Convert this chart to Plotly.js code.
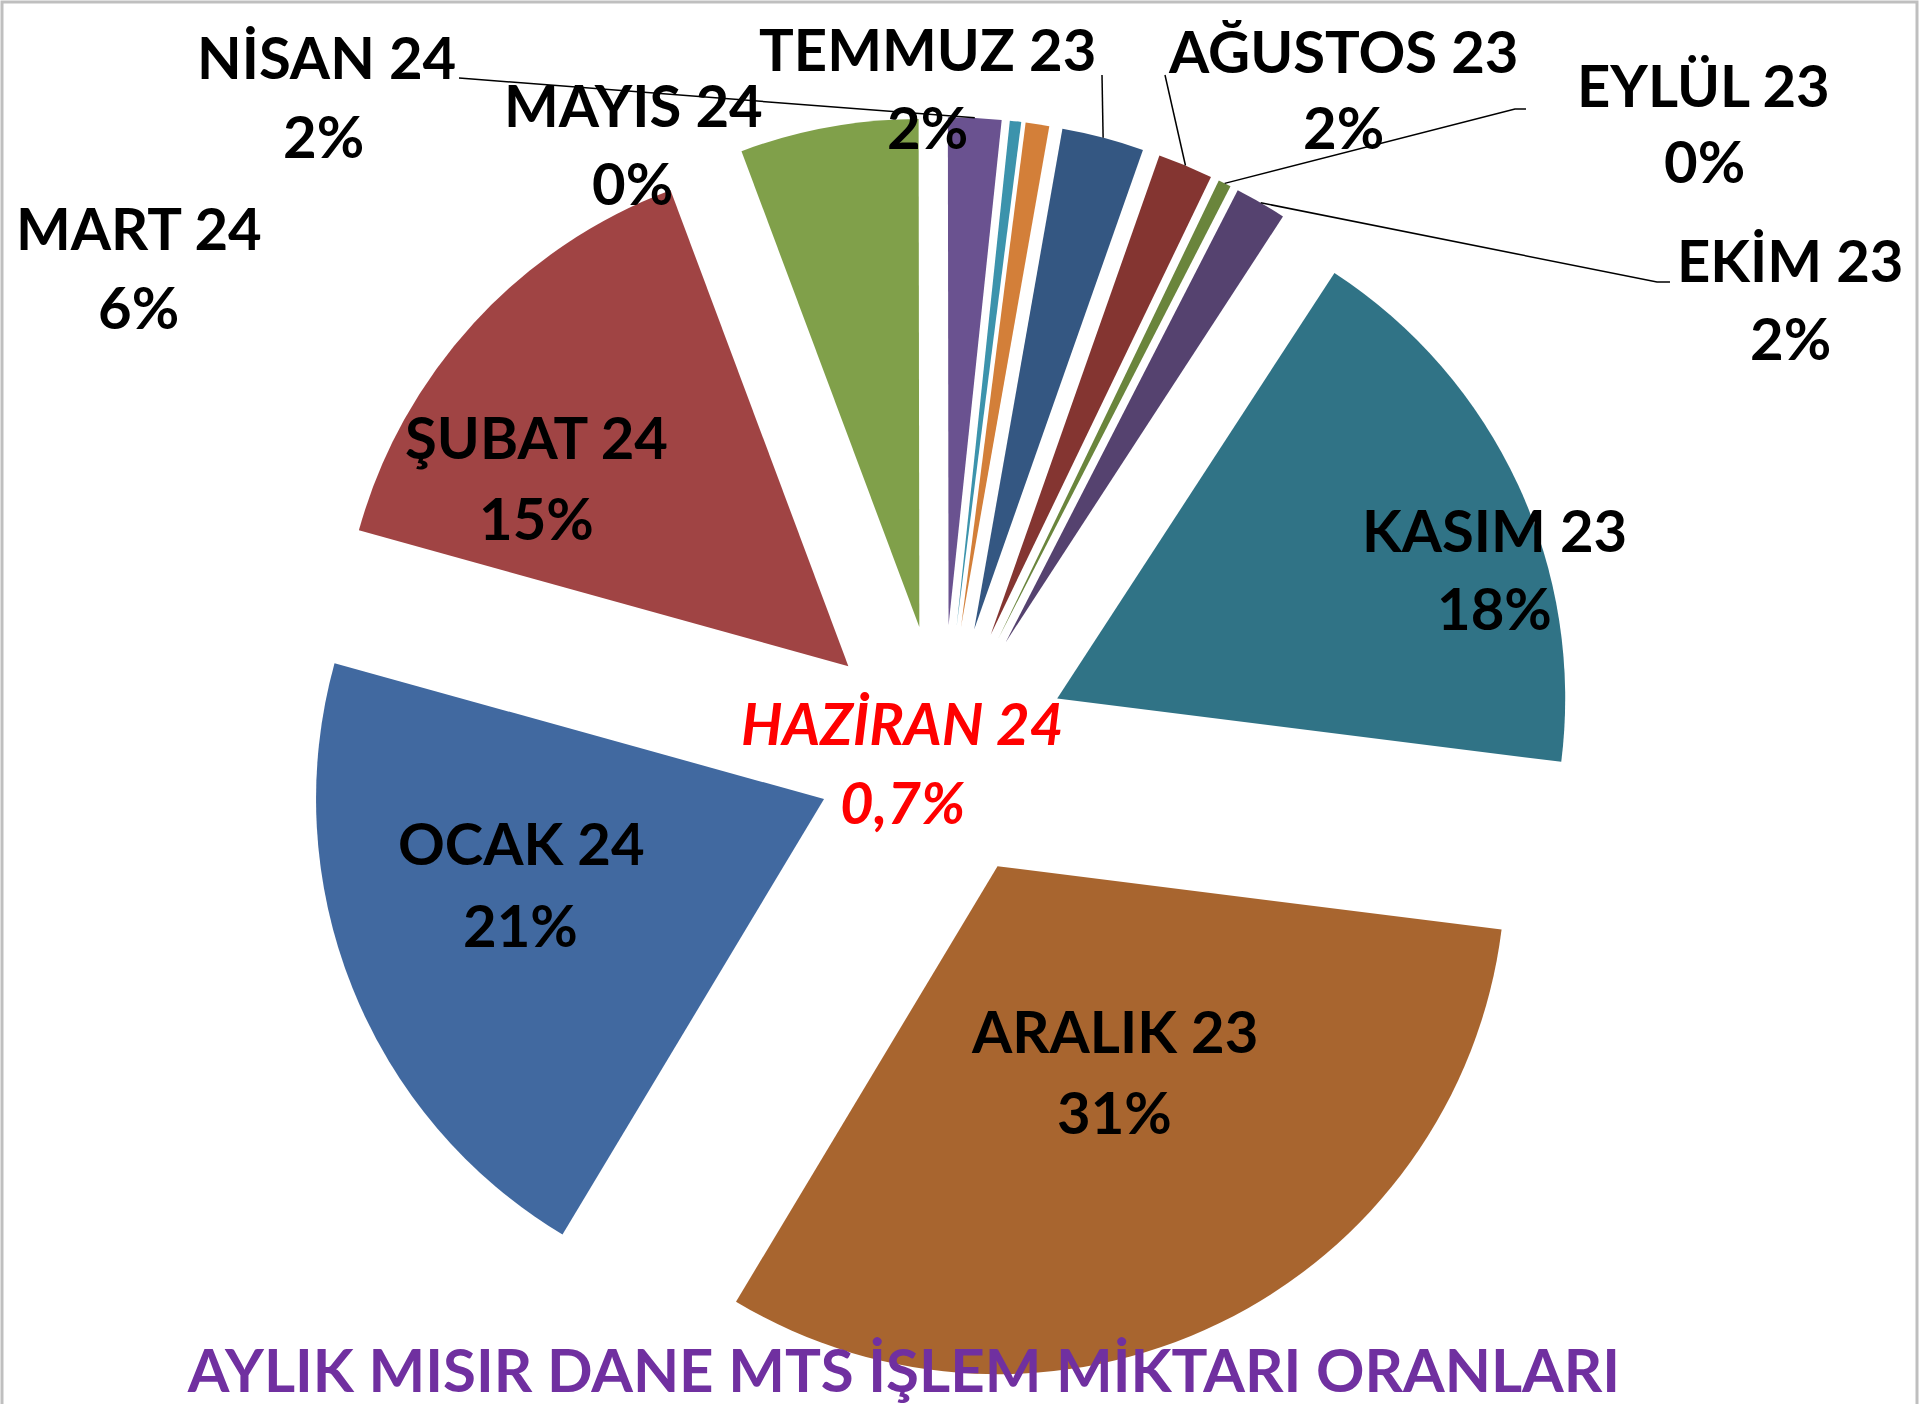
<!DOCTYPE html>
<html><head><meta charset="utf-8">
<script src="https://cdn.plot.ly/plotly-3.0.1.min.js"></script>
<style>html,body{margin:0;padding:0;background:#fff;} #chart{width:1920px;height:1404px;}</style>
</head><body><div id="chart"></div>
<script>
// ---- data (clockwise, chronological) ----
const months = ['TEMMUZ 23','AĞUSTOS 23','EYLÜL 23','EKİM 23','KASIM 23','ARALIK 23','OCAK 24','ŞUBAT 24','MART 24','NİSAN 24','MAYIS 24','HAZİRAN 24'];
const shares = [2.61, 1.75, 0.41, 1.64, 17.8, 31.62, 20.7, 15.0, 5.67, 1.69, 0.36, 0.75];
const pctLabels = ['2%','2%','0%','2%','18%','31%','21%','15%','6%','2%','0%','0,7%'];
const titleText = 'AYLIK MISIR DANE MTS İŞLEM MİKTARI ORANLARI';

// ---- styles / layout ----
const colors = ['#345782','#843531','#6A853C','#55426F','#307386','#A8652F','#4169A0','#A04444','#80A04A','#6A5290','#3C93AC','#D37F39'];
const W = 1920, H = 1404;
const C = [942, 752], R = 508, PULL = 0.25, ROT = 10;
const half = R * (1 + PULL);
const domain = {x: [(C[0] - half) / W, (C[0] + half) / W], y: [1 - (C[1] + half) / H, 1 - (C[1] - half) / H]};

// label centres in px: [nameX, nameY, pctX, pctY]
const labelPos = {
  'TEMMUZ 23': [927, 49, 927, 127],
  'AĞUSTOS 23': [1343, 50, 1343, 127],
  'EYLÜL 23': [1703, 84, 1704, 161],
  'EKİM 23': [1790, 260, 1790, 337],
  'KASIM 23': [1494, 530, 1494, 607],
  'ARALIK 23': [1114, 1030, 1114, 1111],
  'OCAK 24': [521, 842, 520, 924],
  'ŞUBAT 24': [536, 437, 536, 517],
  'MART 24': [139, 227, 138, 306],
  'NİSAN 24': [326, 57, 323, 136],
  'MAYIS 24': [633, 105, 632, 183],
  'HAZİRAN 24': [902, 722, 902, 801]
};
// leader line starts (px) near the label
const leaderStart = {
  'NİSAN 24': [[459, 78], [472, 79]],
  'TEMMUZ 23': [[1102, 75]],
  'AĞUSTOS 23': [[1165, 75]],
  'EYLÜL 23': [[1526, 109], [1515, 109]],
  'EKİM 23': [[1670, 282], [1657, 282]]
};

const px = x => x / W, py = y => 1 - y / H;
const total = shares.reduce((a, b) => a + b, 0);
let cum = 0;
const annotations = [], shapes = [];
months.forEach((m, i) => {
  const mid = (ROT + 360 * (cum + shares[i] / 2) / total) * Math.PI / 180;
  cum += shares[i];
  const p = labelPos[m];
  const isRed = m === 'HAZİRAN 24';
  const font = {family: 'Lato, "Open Sans", sans-serif', size: 58, weight: 700,
                color: isRed ? '#FF0000' : '#000000', style: isRed ? 'italic' : 'normal'};
  annotations.push({xref: 'paper', yref: 'paper', x: px(p[0]), y: py(p[1]), text: m,
    showarrow: false, xanchor: 'center', yanchor: 'middle', font: font});
  annotations.push({xref: 'paper', yref: 'paper', x: px(p[2]), y: py(p[3]), text: pctLabels[i],
    showarrow: false, xanchor: 'center', yanchor: 'middle', font: font});
  if (leaderStart[m]) {
    const end = [C[0] + half * Math.sin(mid), C[1] - half * Math.cos(mid)];
    const pts = leaderStart[m].concat([end]);
    const path = pts.map((q, k) => (k ? 'L' : 'M') + px(q[0]).toFixed(5) + ',' + py(q[1]).toFixed(5)).join(' ');
    shapes.push({type: 'path', xref: 'paper', yref: 'paper', path: path, line: {color: '#000', width: 1.5}});
  }
});
// chart-area frame
shapes.push({type: 'rect', xref: 'paper', yref: 'paper', x0: px(2), x1: px(1917), y0: py(1420), y1: py(2),
  line: {color: '#BFBFBF', width: 3}, layer: 'below'});

const trace = {
  type: 'pie', labels: months, values: shares, sort: false, direction: 'clockwise',
  rotation: ROT, pull: PULL, textinfo: 'none', hoverinfo: 'label+percent',
  marker: {colors: colors, line: {width: 0}}, domain: domain, showlegend: false
};
const layout = {
  width: W, height: H, margin: {l: 0, r: 0, t: 0, b: 0}, showlegend: false,
  paper_bgcolor: '#fff', plot_bgcolor: '#fff',
  title: {text: titleText, font: {family: 'Lato, "Open Sans", sans-serif', size: 60, weight: 700, color: '#7030A0'},
          x: px(904), xanchor: 'center', y: py(1371), yanchor: 'middle', yref: 'container', xref: 'paper'},
  annotations: annotations, shapes: shapes
};
Plotly.newPlot('chart', [trace], layout, {displayModeBar: false, staticPlot: true});
</script></body></html>
